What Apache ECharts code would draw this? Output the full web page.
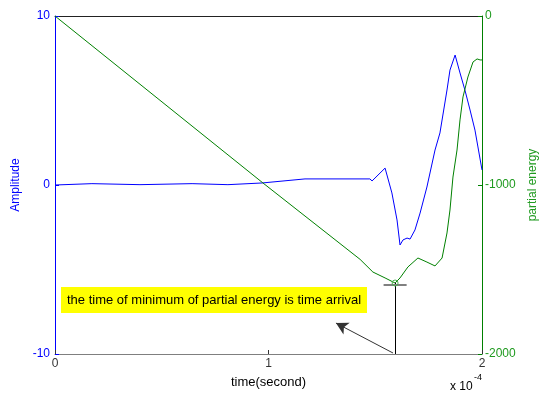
<!DOCTYPE html>
<html>
<head>
<meta charset="utf-8">
<script src="https://cdn.jsdelivr.net/npm/echarts@6/dist/echarts.min.js"></script>
<style>html,body{margin:0;padding:0;background:#fff}#c{width:539px;height:394px}</style>
</head>
<body>
<div id="c"></div>
<script>
// time in units of 1e-4 s
var xTicks = [0, 1, 2];
var ampTicks = [-10, 0, 10];
var energyTicks = [-2000, -1000, 0];

var ampTime = [0, 0.173, 0.398, 0.642, 0.810, 0.970, 1.171, 1.475, 1.485, 1.546, 1.578, 1.602, 1.616, 1.630, 1.649, 1.663, 1.686, 1.710, 1.742, 1.780, 1.803, 1.836, 1.850, 1.874, 1.897, 1.920, 1.944, 1.967, 1.981, 2.0];
var ampValues = [0.0, 0.08, 0.02, 0.08, 0.02, 0.12, 0.36, 0.36, 0.24, 1.0, -0.47, -2.07, -3.55, -3.25, -3.14, -3.2, -2.66, -1.66, -0.12, 2.07, 3.08, 5.62, 6.8, 7.69, 6.63, 5.62, 4.44, 3.25, 2.25, 0.89];

var energyTime = [0, 0.974, 1.429, 1.489, 1.546, 1.593, 1.616, 1.653, 1.700, 1.742, 1.780, 1.813, 1.836, 1.850, 1.864, 1.883, 1.897, 1.911, 1.934, 1.958, 1.977, 1.991, 2.0];
var energyValues = [0, -988, -1440, -1515, -1550, -1580, -1550, -1485, -1432, -1456, -1479, -1432, -1284, -1148, -953, -793, -615, -479, -361, -272, -254, -260, -260];

var arrivalTime = 1.593;
var arrivalEnergy = -1580;
var arrowFrom = [1.583, -1994];
var arrowTo = [1.316, -1817];
var capHalfWidth = 0.054;
var noteText = 'the time of minimum of partial energy is time arrival';

function zip(a, b) { return a.map(function (v, i) { return [v, b[i]]; }); }

var chart = echarts.init(document.getElementById('c'), null, {renderer: 'canvas'});
var font = 'Arial, "Liberation Sans", sans-serif';
chart.setOption({
  animation: false,
  backgroundColor: '#fff',
  grid: {left: 55, right: 57, top: 16, bottom: 40, containLabel: false, outerBoundsMode: 'none'},
  xAxis: [{
    type: 'value', min: xTicks[0], max: xTicks[xTicks.length - 1], interval: 1,
    axisLine: {onZero: false, lineStyle: {color: '#7f7f7f', width: 1}},
    axisTick: {inside: true, length: 4, lineStyle: {color: '#333'}},
    axisLabel: {color: '#333', fontSize: 12, fontFamily: font, margin: 4},
    splitLine: {show: false},
    name: 'time(second)', nameLocation: 'middle', nameGap: 22,
    nameTextStyle: {color: '#000', fontSize: 13, fontFamily: font}
  }, {
    type: 'value', position: 'top', min: 0, max: 2, interval: 1,
    axisLine: {show: true, onZero: false, lineStyle: {color: '#222', width: 1}},
    axisTick: {show: false}, axisLabel: {show: false}, splitLine: {show: false}
  }],
  yAxis: [{
    type: 'value', position: 'left', min: ampTicks[0], max: ampTicks[2], interval: 10,
    axisLine: {show: true, onZero: false, lineStyle: {color: '#0000ff', width: 1}},
    axisTick: {show: true, inside: true, length: 4, lineStyle: {color: '#0000ff'}},
    axisLabel: {color: '#0000ff', fontSize: 12, fontFamily: font, margin: 5},
    splitLine: {show: false},
    name: 'Amplitude', nameLocation: 'middle', nameGap: 31, nameRotate: 90,
    nameTextStyle: {color: '#0000ff', fontSize: 12, fontFamily: font}
  }, {
    type: 'value', position: 'right', min: energyTicks[0], max: energyTicks[2], interval: 1000,
    axisLine: {show: true, onZero: false, lineStyle: {color: '#008000', width: 1}},
    axisTick: {show: true, inside: true, length: 4, lineStyle: {color: '#008000'}},
    axisLabel: {color: '#1f9a1f', fontSize: 12, fontFamily: font, margin: 3,
                formatter: function (v) { return String(v); }},
    splitLine: {show: false},
    name: 'partial energy', nameLocation: 'middle', nameGap: 36, nameRotate: 90,
    nameTextStyle: {color: '#1f9a1f', fontSize: 12, fontFamily: font}
  }],
  series: [{
    type: 'line', name: 'Amplitude', xAxisIndex: 0, yAxisIndex: 0,
    data: zip(ampTime, ampValues), showSymbol: false, symbol: 'none',
    lineStyle: {color: '#0000ff', width: 1}
  }, {
    type: 'line', name: 'partial energy', xAxisIndex: 0, yAxisIndex: 1,
    data: zip(energyTime, energyValues), showSymbol: false, symbol: 'none',
    lineStyle: {color: '#008000', width: 1},
    markLine: {
      silent: true, animation: false, label: {show: false},
      data: [
        [{coord: [arrivalTime, arrivalEnergy], symbol: 'none', lineStyle: {color: '#000', width: 1, type: 'solid'}},
         {coord: [arrivalTime, energyTicks[0]], symbol: 'none'}],
        [{coord: [arrivalTime - capHalfWidth, arrivalEnergy - 12], symbol: 'none', lineStyle: {color: '#808080', width: 2, type: 'solid'}},
         {coord: [arrivalTime + capHalfWidth, arrivalEnergy - 12], symbol: 'none'}],
        [{coord: arrowFrom, symbol: 'none', lineStyle: {color: '#333', width: 1, type: 'solid'}},
         {coord: arrowTo, symbol: 'arrow', symbolSize: [10, 12]}]
      ]
    },
    markPoint: {
      silent: true, animation: false, label: {show: false},
      data: [{coord: [arrivalTime, arrivalEnergy], symbol: 'circle', symbolSize: 6,
              itemStyle: {color: 'rgba(0,0,0,0)', borderColor: '#4caf50', borderWidth: 1}}]
    }
  }],
  graphic: [{
    type: 'group', left: 61, top: 287,
    children: [
      {type: 'rect', shape: {x: 0, y: 0, width: 306, height: 26}, style: {fill: '#ffff00'}},
      {type: 'text', x: 6, y: 13, style: {text: noteText, fill: '#000', font: '13px ' + font, textVerticalAlign: 'middle', verticalAlign: 'middle'}}
    ]
  }, {
    type: 'text', left: 450, top: 381,
    style: {text: 'x 10', fill: '#000', font: '12px ' + font}
  }, {
    type: 'text', left: 474, top: 373,
    style: {text: '-4', fill: '#000', font: '9px ' + font}
  }]
});
</script>
</body>
</html>
